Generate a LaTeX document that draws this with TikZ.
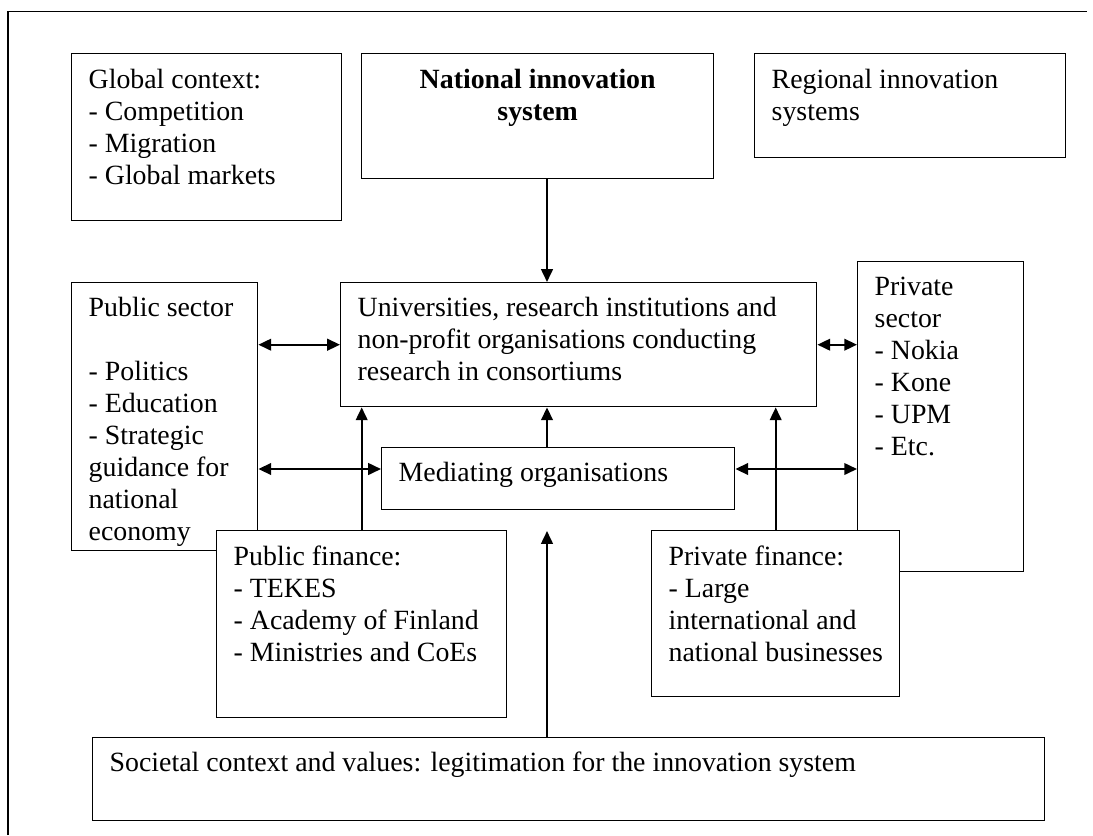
\documentclass[tikz,border=0pt]{standalone}
\usepackage{fontspec}
\setmainfont{Liberation Serif}
\usetikzlibrary{arrows.meta}
\newlength{\px}
\setlength{\px}{0.431pt}
\newcommand{\boxtext}[4]{\parbox[c][#2\px][t]{#1\px}{\raggedright\leftskip=17\px\rule{0pt}{#3\px}#4}}
\tikzset{
  box/.style={draw, fill=white, line width=0.6pt, anchor=north west, inner sep=0pt,
    font=\fontsize{12}{13.8}\selectfont},
  frame/.style={line width=0.6pt},
  arr/.style={-{Triangle[length=5.5pt,width=5pt]}, line width=0.9pt},
  darr/.style={{Triangle[length=5.5pt,width=5pt]}-{Triangle[length=5.5pt,width=5pt]}, line width=0.9pt},
}

\begin{document}
\begin{tikzpicture}[x=0.431pt, y=-0.431pt]
    \useasboundingbox (0,0) rectangle (1093,835);
    \draw[frame] (8,835) -- (8,11.5) -- (1087,11.5);

    \node[box] (glob) at (71,53) {\boxtext{270}{167}{35}{Global context:\\- Competition\\- Migration\\- Global markets}};
    \node[box] (nat) at (361,53) {\parbox[c][125\px][t]{352\px}{\centering\bfseries\rule{0pt}{35\px}National innovation\\system}};
    \node[box] (reg) at (754,53) {\boxtext{311}{104}{35}{Regional innovation\\systems}};

    \node[box] (pubsec) at (71,282) {\boxtext{186}{268}{34}{Public sector\\[13.8pt]- Politics\\- Education\\- Strategic\\guidance for\\national\\economy}};
    \node[box] (uni) at (340,282) {\boxtext{476}{124}{34}{Universities, research institutions and\\non-profit organisations conducting\\research in consortiums}};
    \node[box] (privsec) at (857,261) {\boxtext{166}{310}{34}{Private\\sector\\- Nokia\\- Kone\\- UPM\\- Etc.}};
    \node[box] (med) at (381,447) {\boxtext{353}{62}{34}{Mediating organisations}};

    \node[box] (pubfin) at (216,530) {\boxtext{290}{187}{35}{Public finance:\\- TEKES\\- Academy of Finland\\- Ministries and CoEs}};
    \node[box] (privfin) at (651,530) {\boxtext{248}{166}{35}{Private finance:\\- Large\\international and\\national businesses}};
    \node[box] (soc) at (92,737) {\boxtext{952}{83}{34}{Societal context and values: legitimation for the innovation system}};

    \coordinate (spine) at (547,0);
    \coordinate (medrow) at (0,469);
    \coordinate (soctip) at (547,531);

    \draw[arr] (nat.south -| spine) -- (uni.north -| spine);
    \draw[arr] (med.north -| spine) -- (uni.south -| spine);
    \draw[arr] (pubfin.north) -- (uni.south -| pubfin.north);
    \draw[arr] (privfin.north) -- (uni.south -| privfin.north);
    \draw[arr] (soc.north -| soctip) -- (soctip);
    \draw[darr] (pubsec.east |- uni.west) -- (uni.west);
    \draw[darr] (uni.east) -- (privsec.west |- uni.east);
    \draw[darr] (pubsec.east |- medrow) -- (med.west |- medrow);
    \draw[darr] (med.east |- medrow) -- (privsec.west |- medrow);
\end{tikzpicture}
\end{document}
